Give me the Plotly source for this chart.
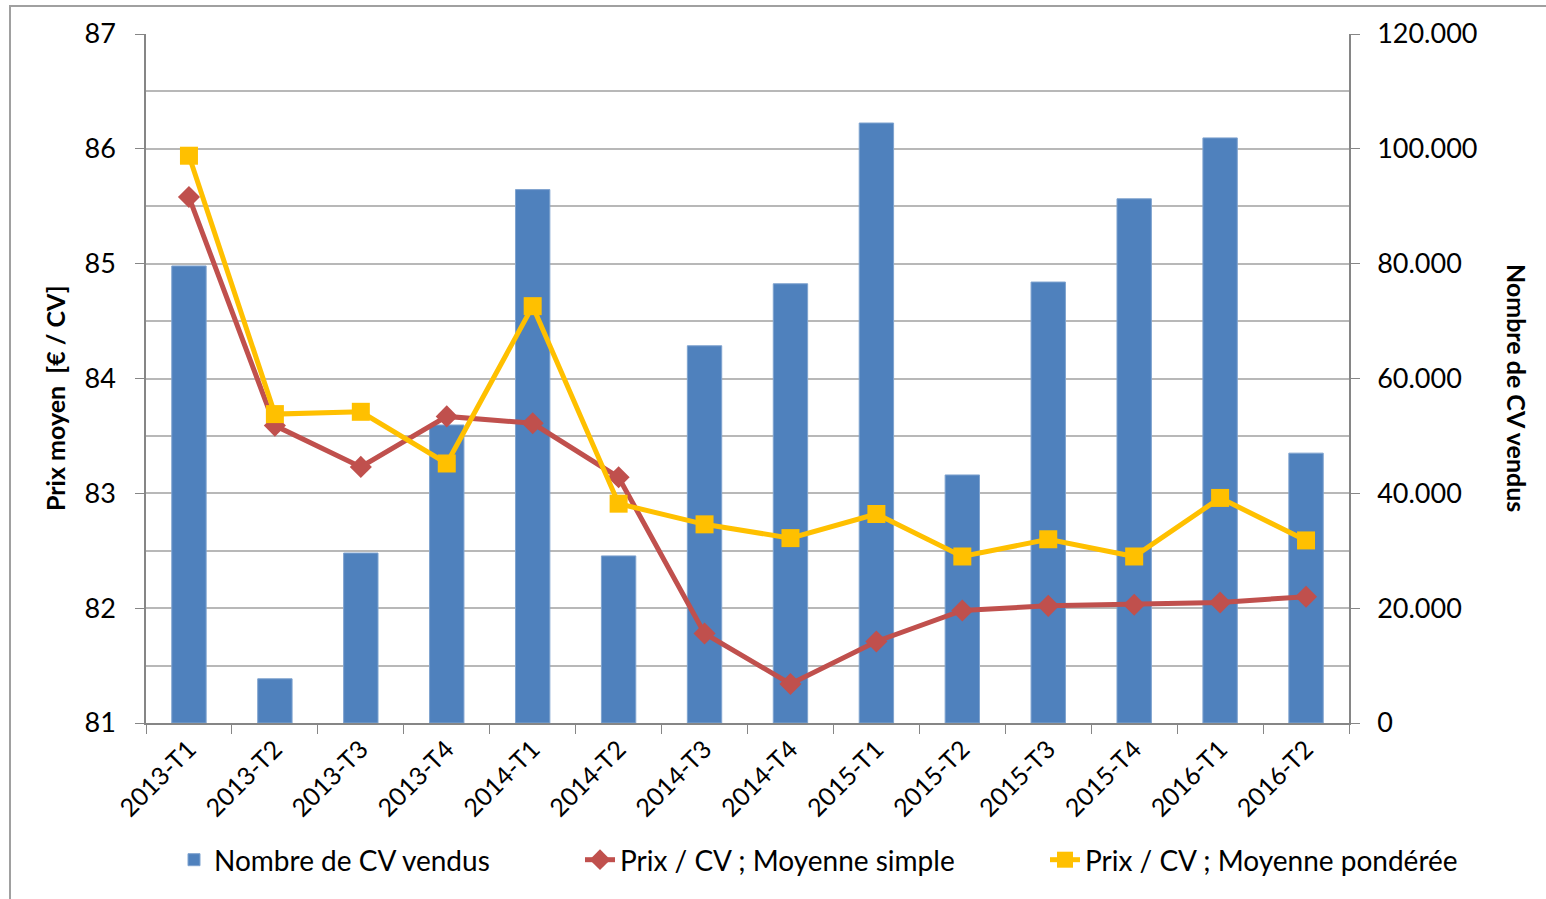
import plotly.graph_objects as go

categories = ["2013-T1", "2013-T2", "2013-T3", "2013-T4", "2014-T1", "2014-T2", "2014-T3",
              "2014-T4", "2015-T1", "2015-T2", "2015-T3", "2015-T4", "2016-T1", "2016-T2"]
nombre_cv = [79600, 7700, 29600, 51900, 92900, 29100, 65700,
             76500, 104500, 43200, 76800, 91300, 101900, 47000]
moyenne_simple = [85.58, 83.59, 83.23, 83.67, 83.61, 83.14, 81.78,
                  81.34, 81.71, 81.98, 82.02, 82.03, 82.05, 82.10]
moyenne_ponderee = [85.94, 83.69, 83.71, 83.26, 84.63, 82.91, 82.73,
                    82.61, 82.82, 82.45, 82.60, 82.45, 82.96, 82.59]

FONT = "Lato"
OFF = 0  # body margin removed via post_script
W, H = 1546 - OFF, 899 - OFF
# target plot area in screen pixels: x 146..1349, y 34..723
L, T = 146 - OFF, 34 - OFF
R = W - (1349 - OFF)
B = H - (723 - OFF)
pw, ph = W - L - R, H - T - B

def px(x):
    return (x - 146) / pw

def py(y):
    return (723 - y) / ph

fig = go.Figure()
fig.add_trace(go.Bar(
    x=categories, y=nombre_cv, name="Nombre de CV vendus",
    marker=dict(color="#4F81BD", line=dict(color="#7FA3CF", width=1)),
    width=0.4, yaxis="y", legend="legend"))
fig.add_trace(go.Scatter(
    x=categories, y=moyenne_simple, name="Prix / CV ; Moyenne simple",
    mode="lines+markers", line=dict(color="#C0504D", width=5),
    marker=dict(symbol="diamond", size=17, color="#C0504D"),
    yaxis="y2", legend="legend2"))
fig.add_trace(go.Scatter(
    x=categories, y=moyenne_ponderee, name="Prix / CV ; Moyenne pondérée",
    mode="lines+markers", line=dict(color="#FFC000", width=5),
    marker=dict(symbol="square", size=18, color="#FFC000"),
    yaxis="y2", legend="legend3"))

axis_line = "#868686"
grid = "#B8B8B8"

leg_common = dict(orientation="h", yanchor="middle", xanchor="left",
                  font=dict(family=FONT, size=28, color="black"),
                  bgcolor="rgba(0,0,0,0)")

fig.update_layout(
    width=W, height=H,
    margin=dict(l=L, r=R, t=T, b=B, autoexpand=False),
    paper_bgcolor="white", plot_bgcolor="white",
    separators=",.",
    font=dict(family=FONT, color="black"),
    barmode="overlay",
    xaxis=dict(
        type="category", tickson="boundaries", ticks="outside", ticklen=9,
        tickcolor=axis_line, showline=True, linecolor=axis_line, linewidth=1.5,
        tickangle=-45, tickfont=dict(family=FONT, size=25, color="black"),
        showgrid=False, range=[-0.5, 13.5]),
    yaxis=dict(
        side="right", range=[0, 120000], tickvals=[0, 20000, 40000, 60000, 80000, 100000, 120000],
        tickformat=",", ticks="outside", ticklen=9, tickcolor=axis_line,
        showline=True, linecolor=axis_line, linewidth=1.5,
        tickfont=dict(family=FONT, size=27, color="black"),
        showgrid=True, gridcolor=grid, gridwidth=1.5,
        minor=dict(dtick=10000, showgrid=True, gridcolor=grid, gridwidth=1.5),
        zeroline=False, ticklabelstandoff=12),
    yaxis2=dict(
        overlaying="y", side="left", range=[81, 87], dtick=1,
        ticks="outside", ticklen=9, tickcolor=axis_line,
        showline=True, linecolor=axis_line, linewidth=1.5,
        tickfont=dict(family=FONT, size=27, color="black"),
        showgrid=False, zeroline=False, ticklabelstandoff=14),
    legend=dict(x=px(174), y=py(860), **leg_common),
    legend2=dict(x=px(580), y=py(860), **leg_common),
    legend3=dict(x=px(1045), y=py(860), **leg_common),
    showlegend=True,
    annotations=[
        dict(text="<b>Prix moyen  [€ / CV]</b>", x=px(55), y=py(398), xref="paper", yref="paper",
             xanchor="center", yanchor="middle",
             textangle=-90, showarrow=False, font=dict(family=FONT, size=25, color="black")),
        dict(text="<b>Nombre de CV vendus</b>", x=px(1517), y=py(388), xref="paper", yref="paper",
             xanchor="center", yanchor="middle",
             textangle=90, showarrow=False, font=dict(family=FONT, size=25, color="black")),
    ],
    shapes=[
        dict(type="rect", xref="paper", yref="paper", x0=px(10), x1=px(1560), y0=py(910), y1=py(6),
             line=dict(color="#A0A0A0", width=2), fillcolor="rgba(0,0,0,0)", layer="below"),
    ],
)

fig.write_html("out.html", config={"displayModeBar": False},
               post_script="document.body.style.margin='0px';document.body.style.overflow='hidden';")
